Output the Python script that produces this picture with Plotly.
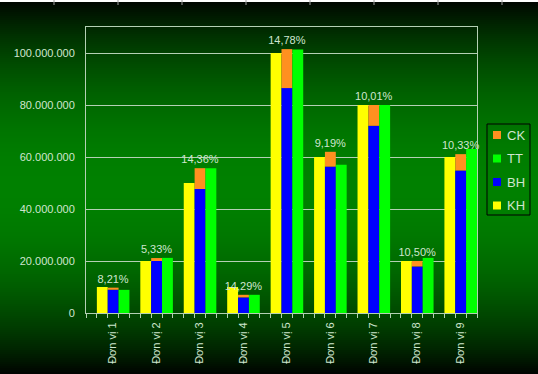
import math
import plotly.graph_objects as go

categories = ["Đơn vị 1", "Đơn vị 2", "Đơn vị 3", "Đơn vị 4", "Đơn vị 5",
              "Đơn vị 6", "Đơn vị 7", "Đơn vị 8", "Đơn vị 9"]
kh = [10.0e6, 20.0e6, 50.0e6, 10.0e6, 100.0e6, 60.0e6, 80.0e6, 20.0e6, 60.0e6]
bh = [8.95e6, 20.0e6, 47.7e6, 6.0e6, 86.5e6, 56.3e6, 72.0e6, 17.9e6, 54.8e6]
ck = [0.80e6, 1.13e6, 8.0e6, 1.0e6, 15.0e6, 5.7e6, 8.0e6, 2.1e6, 6.3e6]
tt = [8.9e6, 21.2e6, 55.7e6, 7.0e6, 101.3e6, 57.0e6, 80.0e6, 21.2e6, 63.1e6]
pct_labels = ["8,21%", "5,33%", "14,36%", "14,29%", "14,78%",
              "9,19%", "10,01%", "10,50%", "10,33%"]
y_ticks = [0, 20e6, 40e6, 60e6, 80e6, 100e6]
legend_names = ["CK", "TT", "BH", "KH"]

W, H = 538, 374
ML, MR, MT, MB = 86, 61, 27, 61
PW, PH = W - ML - MR, H - MT - MB

FONT = "Liberation Sans, Arial, sans-serif"
TXT = "#cfe6cf"
LINE = "#b4d0b4"

COLORS = {"KH": "#ffff00", "BH": "#0000ff", "CK": "#ff9020", "TT": "#00ff00"}

def py(p):
    return 1 - (p - MT) / PH

def px(q):
    return (q - ML) / PW

x = list(range(len(categories)))

fig = go.Figure()
fig.add_trace(go.Bar(x=x, y=kh, width=0.25, offset=-0.25, name="KH",
                     marker=dict(color=COLORS["KH"], line=dict(width=0)),
                     showlegend=False, hoverinfo="skip"))
fig.add_trace(go.Bar(x=x, y=bh, width=0.25, offset=0.0, name="BH",
                     marker=dict(color=COLORS["BH"], line=dict(width=0)),
                     showlegend=False, hoverinfo="skip"))
fig.add_trace(go.Bar(x=x, y=ck, base=bh, width=0.25, offset=0.0, name="CK",
                     marker=dict(color=COLORS["CK"], line=dict(width=0)),
                     text=pct_labels, textposition="outside",
                     textfont=dict(family=FONT, size=11, color=TXT),
                     constraintext="none", cliponaxis=False,
                     showlegend=False, hoverinfo="skip"))
fig.add_trace(go.Bar(x=x, y=tt, width=0.25, offset=0.25, name="TT",
                     marker=dict(color=COLORS["TT"], line=dict(width=0)),
                     showlegend=False, hoverinfo="skip"))

# background gradient
shapes = []
step = 2
for p in range(0, H, step):
    t = (p + step / 2) / H
    f = math.sin(math.pi * t) ** 0.8
    g = int(round(128 * f))
    shapes.append(dict(type="rect", xref="paper", yref="paper",
                       x0=px(0), x1=px(W), y0=py(p + step), y1=py(p),
                       fillcolor=f"rgb(0,{g},0)", line=dict(width=0), layer="below"))
shapes.append(dict(type="rect", xref="paper", yref="paper",
                   x0=px(0), x1=px(W), y0=py(2), y1=py(0),
                   fillcolor="#ffffff", line=dict(width=0), layer="below"))
for q in range(54, W, 64):
    shapes.append(dict(type="line", xref="paper", yref="paper",
                       x0=px(q), x1=px(q), y0=py(5), y1=py(0),
                       line=dict(color="#a0a0a0", width=1), layer="below"))

# legend box (drawn by hand to match the compact original)
LX0, LX1, LY0, LY1 = 487, 530, 124, 215
shapes.append(dict(type="rect", xref="paper", yref="paper",
                   x0=px(LX0), x1=px(LX1), y0=py(LY1), y1=py(LY0),
                   line=dict(color="#000000", width=1), fillcolor="rgba(0,0,0,0)",
                   layer="above"))
annotations = []
for k, nm in enumerate(legend_names):
    cy = 135 + k * 23.5
    shapes.append(dict(type="rect", xref="paper", yref="paper",
                       x0=px(493), x1=px(501), y0=py(cy + 4), y1=py(cy - 4),
                       fillcolor=COLORS[nm], line=dict(width=0), layer="above"))
    annotations.append(dict(xref="paper", yref="paper", x=px(505), y=py(cy),
                            xanchor="left", yanchor="middle", showarrow=False,
                            text=nm, font=dict(family=FONT, size=13, color=TXT)))

fig.update_layout(
    width=W, height=H,
    margin=dict(l=ML, r=MR, t=MT, b=MB, pad=0, autoexpand=False),
    paper_bgcolor="#002000",
    plot_bgcolor="rgba(0,0,0,0)",
    barmode="overlay",
    separators=",.",
    showlegend=False,
    font=dict(family=FONT, size=11, color=TXT),
    shapes=shapes,
    annotations=annotations,
    xaxis=dict(type="linear", range=[-0.5, len(categories) - 0.5],
               tickvals=x, ticktext=categories, tickangle=-90,
               ticklabelshift=5,
               ticks="outside", ticklen=4, tickcolor=LINE,
               minor=dict(ticks="outside", dtick=0.25, tick0=-0.5, ticklen=4,
                          tickcolor=LINE, showgrid=False),
               showgrid=False, zeroline=False,
               showline=True, linecolor=LINE, linewidth=1, mirror=True,
               tickfont=dict(family=FONT, size=11, color=TXT)),
    yaxis=dict(range=[0, 110e6], tickvals=y_ticks, tickformat=",d",
               showgrid=True, gridcolor=LINE, gridwidth=1,
               zeroline=False, ticks="", ticklabelstandoff=8,
               showline=True, linecolor=LINE, linewidth=1, mirror=True,
               tickfont=dict(family=FONT, size=11, color=TXT)),
)

fig.write_html("out.html",
               config={"displayModeBar": False},
               post_script="document.body.style.margin='0';document.body.style.padding='0';"
                           "document.body.style.overflow='hidden';")
